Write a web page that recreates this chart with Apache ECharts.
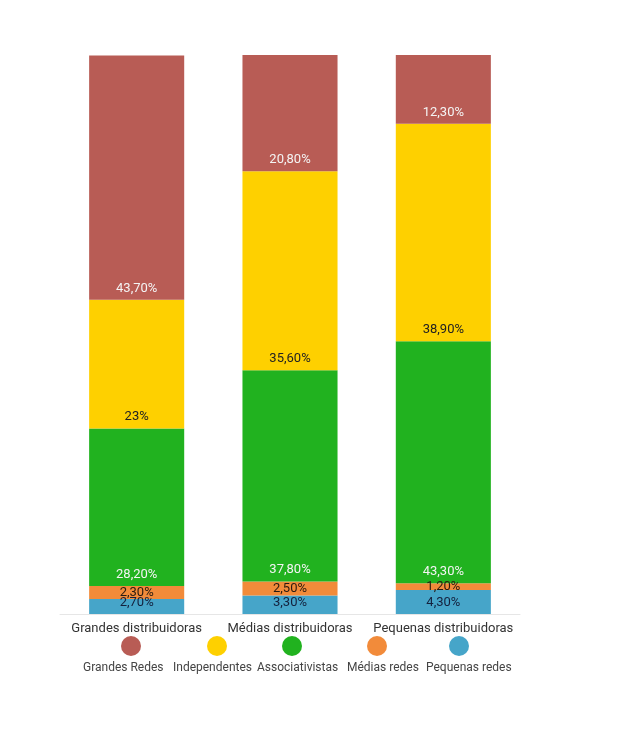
<!DOCTYPE html>
<html>
<head>
<meta charset="utf-8">
<script src="https://cdn.jsdelivr.net/npm/echarts@6/dist/echarts.min.js"></script>
<style>
  html, body { margin: 0; padding: 0; background: #fff; }
  #chart { width: 629px; height: 738px; }
</style>
</head>
<body>
<div id="chart"></div>
<script>
// categorias (eixo x)
const categorias = ['Grandes distribuidoras', 'Médias distribuidoras', 'Pequenas distribuidoras'];

// valores (%) por série, na ordem das categorias
const pequenasRedes   = [2.7, 3.3, 4.3];
const mediasRedes     = [2.3, 2.5, 1.2];
const associativistas = [28.2, 37.8, 43.3];
const independentes   = [23, 35.6, 38.9];
const grandesRedes    = [43.7, 20.8, 12.3];

// ordem da legenda
const nomesLegenda = ['Grandes Redes', 'Independentes', 'Associativistas', 'Médias redes', 'Pequenas redes'];

{
	let chart = echarts.init(document.getElementById('chart'));

	let fmt = function (p) {
		let v = p.value;
		if (Number.isInteger(v)) return v + '%';
		return v.toFixed(2).replace('.', ',') + '%';
	};

	let serie = function (nome, dados, cor, corTexto, pos) {
		return {
			name: nome,
			type: 'bar',
			stack: 'total',
			barWidth: '62%',
			data: dados,
			itemStyle: { color: cor },
			label: {
				show: true,
				position: pos || 'insideBottom',
				distance: 5,
				formatter: fmt,
				color: corTexto,
				fontSize: 13,
				fontFamily: 'Roboto'
			}
		};
	};

	// legenda: bolinha em cima, texto embaixo (posições em px)
	let bolinhaX = [131, 217, 292, 377, 459];
	let textoX = [83, 173, 257, 347, 426];
	let legends = [];
	nomesLegenda.forEach(function (nome, i) {
		legends.push({
			data: [nome],
			left: bolinhaX[i] - 10,
			top: 636,
			padding: 0,
			icon: 'circle',
			itemWidth: 20,
			itemHeight: 20,
			formatter: function () { return ''; },
			selectedMode: false
		});
		legends.push({
			data: [nome],
			left: textoX[i] - 5,
			top: 661,
			padding: 0,
			itemWidth: 0,
			itemHeight: 14,
			itemStyle: { opacity: 0 },
			selectedMode: false,
			textStyle: { color: '#444', fontSize: 12, fontFamily: 'Roboto' }
		});
	});

	let opt = {
		animation: false,
		legend: legends,
		grid: { left: 60, right: 109, top: 55, bottom: 124 },
		xAxis: {
			type: 'category',
			data: categorias,
			axisLine: { lineStyle: { color: '#e6e6e6' } },
			axisTick: { show: false },
			axisLabel: { color: '#333', fontSize: 13, fontFamily: 'Roboto', margin: 8, interval: 0 }
		},
		yAxis: {
			type: 'value',
			min: 0,
			max: 100,
			show: false
		},
		series: [
			serie('Pequenas redes', pequenasRedes, '#46a5c9', '#14213d'),
			serie('Médias redes', mediasRedes, '#f28b3a', '#2a1a10', 'inside'),
			serie('Associativistas', associativistas, '#21b21f', '#f4f4f4'),
			serie('Independentes', independentes, '#fed000', '#222222'),
			serie('Grandes Redes', grandesRedes, '#b85c55', '#f4f4f4')
		]
	};
	chart.setOption(opt);
}
</script>
</body>
</html>
